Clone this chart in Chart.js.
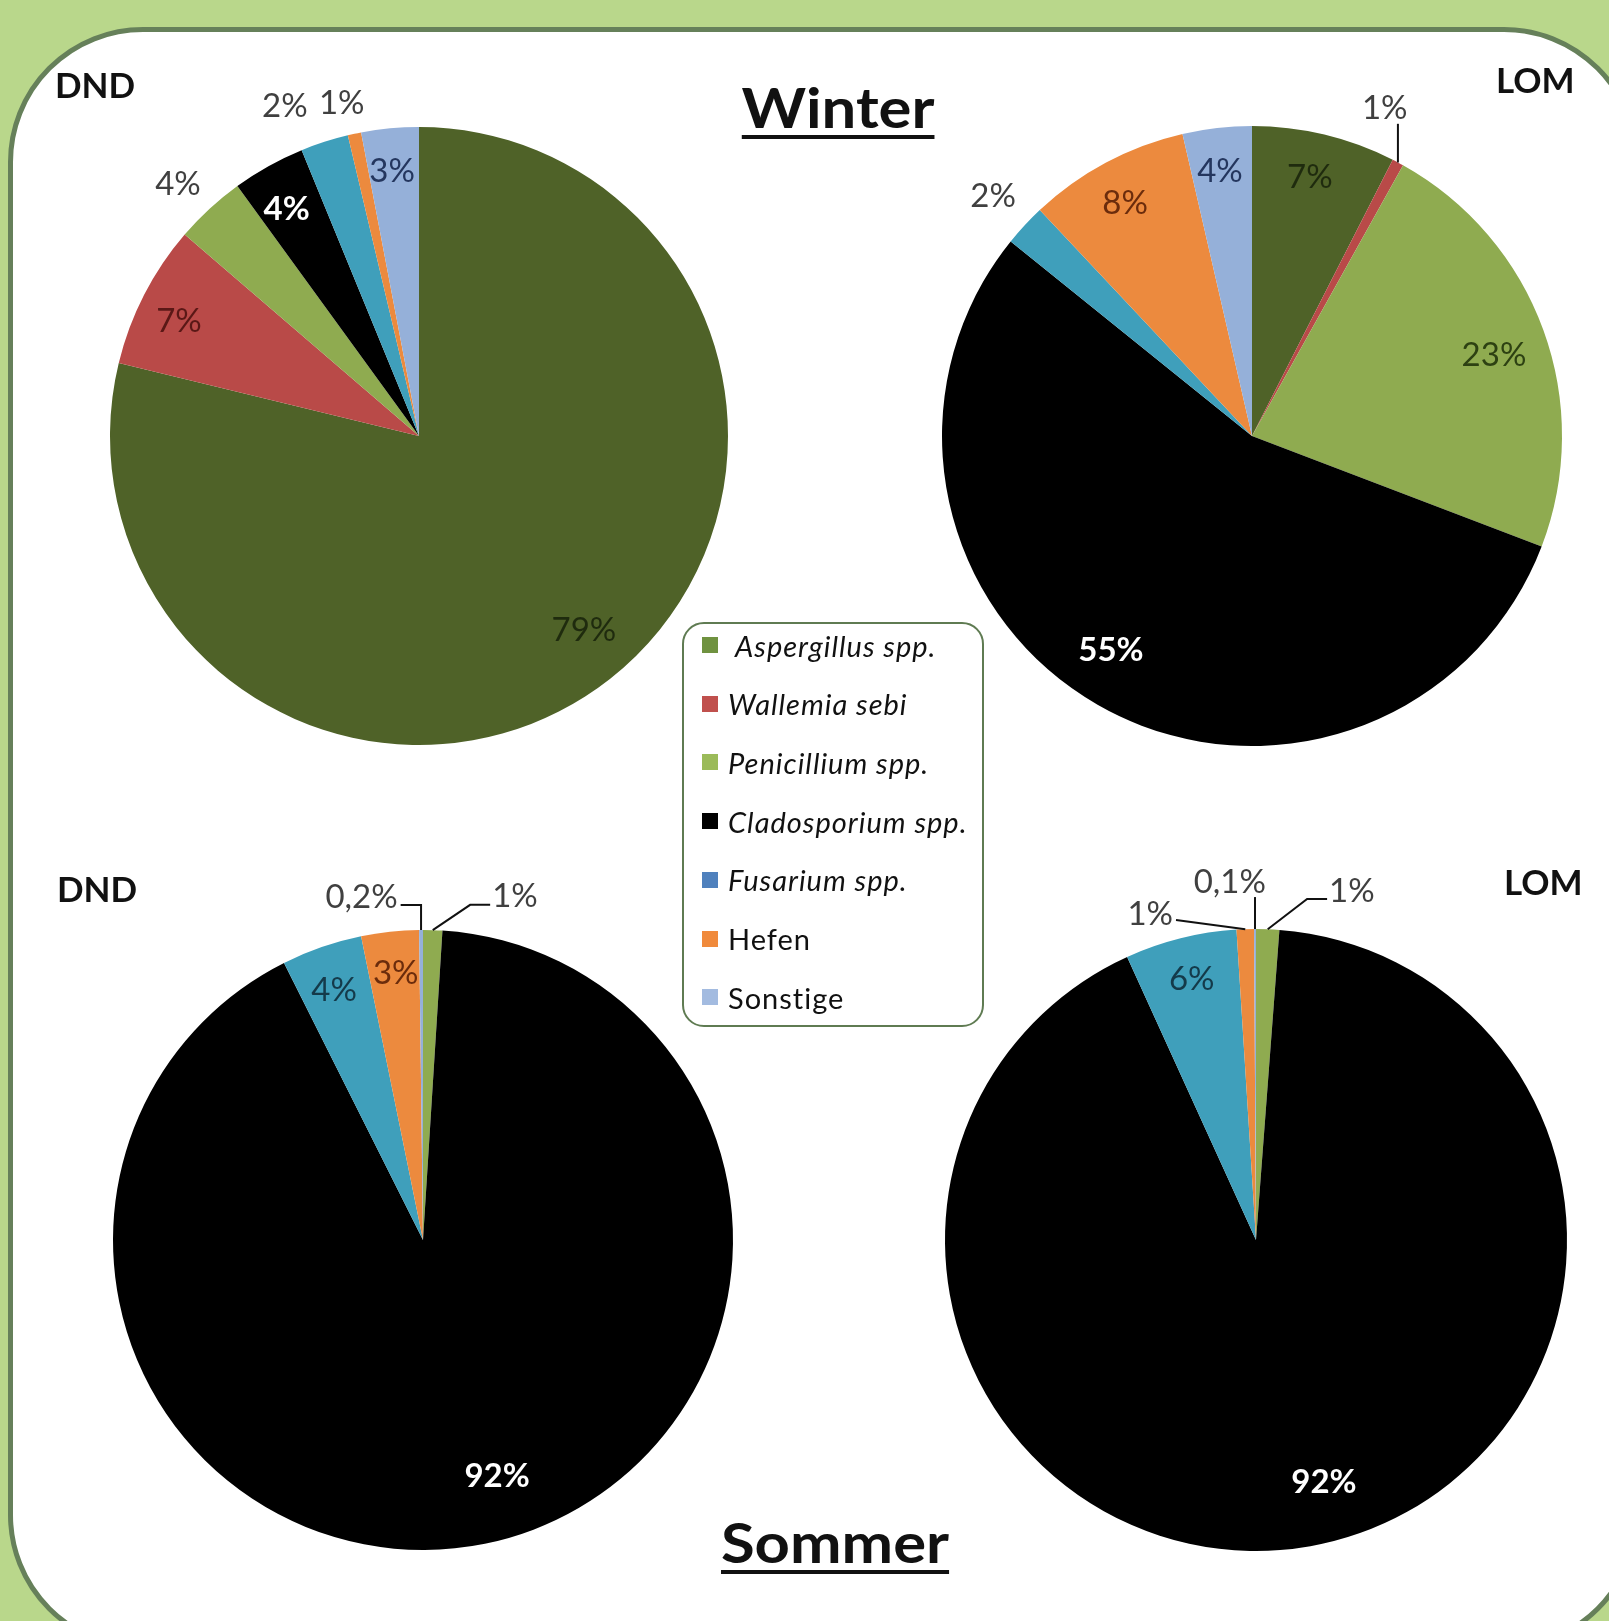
<!DOCTYPE html>
<html>
<head>
<meta charset="utf-8">
<script src="https://cdn.jsdelivr.net/npm/chart.js@4.4.1/dist/chart.umd.min.js"></script>
<style>
  html, body { margin: 0; padding: 0; }
  body { width: 1609px; height: 1621px; background: #b9d78b; position: relative; overflow: hidden; font-family: Lato, "Open Sans", sans-serif; }
  #panel { position: absolute; left: 8px; top: 27px; width: 1631px; height: 1623px; box-sizing: border-box; border: 5px solid #66805a; border-radius: 135px; background: #fff; }
  canvas { position: absolute; }
  .tag { position: absolute; font-weight: 700; font-size: 35px; line-height: 35px; color: #111; z-index: 4; }
  .title { position: absolute; font-weight: 700; font-size: 56px; line-height: 56px; color: #111; white-space: nowrap;
           text-decoration: underline; text-decoration-thickness: 4px; text-underline-offset: 7px;
           transform: translateX(-50%) scaleX(1.1); z-index: 4; }
  #legend { position: absolute; left: 682px; top: 622px; width: 302px; height: 405px; box-sizing: border-box;
            border: 2.5px solid #5f7b52; border-radius: 22px; background: #fff; z-index: 5; }
  .item { position: absolute; left: 18px; height: 30px; display: flex; align-items: center; font-size: 29px; letter-spacing: 1px; color: #111; white-space: nowrap; }
  .sw { width: 16px; height: 16px; margin-right: 10px; flex: none; }
</style>
</head>
<body>
<div id="panel"></div>

<canvas id="winterDND"></canvas>
<canvas id="winterLOM"></canvas>
<canvas id="sommerDND"></canvas>
<canvas id="sommerLOM"></canvas>

<div class="title" style="left:838px; top:79px;">Winter</div>
<div class="title" style="left:835px; top:1514px;">Sommer</div>
<div class="tag" style="left:55px; top:67px;">DND</div>
<div class="tag" style="left:1496px; top:62px;">LOM</div>
<div class="tag" style="left:57px; top:871px;">DND</div>
<div class="tag" style="left:1504px; top:864px;">LOM</div>

<div id="legend"></div>

<script>
// categories
const species = ["Aspergillus spp.", "Wallemia sebi", "Penicillium spp.", "Cladosporium spp.", "Fusarium spp.", "Hefen", "Sonstige"];
const italicName = [true, true, true, true, true, false, false];

// shares in %
const winterDND = [78.8, 7.5, 3.7, 3.8, 2.5, 0.7, 3.0];
const winterLOM = [7.5, 0.6, 22.7, 55.0, 2.2, 8.4, 3.6];
const sommerDND = [0, 0, 1.0, 91.6, 4.2, 3.0, 0.2];
const sommerLOM = [0, 0, 1.2, 92.0, 5.8, 0.9, 0.1];

// label texts as printed
const winterDNDText = ["79%", "7%", "4%", "4%", "2%", "1%", "3%"];
const winterLOMText = ["7%", "1%", "23%", "55%", "2%", "8%", "4%"];
const sommerDNDText = ["", "", "1%", "92%", "4%", "3%", "0,2%"];
const sommerLOMText = ["", "", "1%", "92%", "6%", "1%", "0,1%"];

const sliceColors = ["#4f6228", "#b94a48", "#8fab50", "#000000", "#3f9fbb", "#ec8a3e", "#95b0d9"];
const legendColors = ["#6f9240", "#c0504d", "#9bbb59", "#000000", "#4f81bd", "#f08a3c", "#a3bbe0"];

const out = "#404040";
const ink = { asp: "#1f2b0e", wal: "#5a1816", pen: "#2d4112", fus: "#143a4a", hef: "#6b2c0c", son: "#24365e" };

const sliceLabels = {
    id: "sliceLabels",
    afterDatasetsDraw(chart, args, opts) {
        const ctx = chart.ctx;
        const arcs = chart.getDatasetMeta(0).data;
        arcs.forEach((arc, i) => {
            const text = opts.texts[i];
            const p = opts.place[i];
            if (!text || !p) return;
            const a = arc.getProps(["x", "y", "startAngle", "endAngle", "outerRadius"], true);
            const m = (a.startAngle + a.endAngle) / 2;
            const ang = m + (p.da || 0) * Math.PI / 180;
            const lx = a.x + Math.cos(ang) * a.outerRadius * p.r;
            const ly = a.y + Math.sin(ang) * a.outerRadius * p.r;
            ctx.save();
            ctx.font = (p.bold ? "700 " : "400 ") + "33px Lato";
            ctx.fillStyle = p.color;
            ctx.textAlign = "center";
            ctx.textBaseline = "middle";
            ctx.fillText(text, lx, ly);
            if (p.leader) {
                const ex = a.x + Math.cos(m) * a.outerRadius;
                const ey = a.y + Math.sin(m) * a.outerRadius;
                const w = ctx.measureText(text).width;
                ctx.strokeStyle = "#111";
                ctx.lineWidth = 2;
                ctx.beginPath();
                if (p.leader === "down") {
                    ctx.moveTo(ex, ly + 15); ctx.lineTo(ex, ey);
                } else if (p.leader === "right") {
                    ctx.moveTo(lx + w / 2 + 3, ly + 8); ctx.lineTo(ex, ly + 8); ctx.lineTo(ex, ey);
                } else if (p.leader === "left") {
                    ctx.moveTo(lx - w / 2 - 2, ly + 8); ctx.lineTo(lx - w / 2 - 22, ly + 8); ctx.lineTo(ex, ey);
                } else {
                    ctx.moveTo(lx + w / 2 + 3, ly + 6); ctx.lineTo(ex, ey);
                }
                ctx.stroke();
            }
            ctx.restore();
        });
    }
};

function makePie(id, cx, cy, R, values, texts, place) {
    const size = 800;
    const cv = document.getElementById(id);
    cv.width = size;
    cv.height = size;
    cv.style.left = (cx - size / 2) + "px";
    cv.style.top = (cy - size / 2) + "px";
    return new Chart(cv, {
        type: "pie",
        data: {
            labels: species,
            datasets: [{ data: values, backgroundColor: sliceColors, borderWidth: 0 }]
        },
        options: {
            responsive: false,
            animation: false,
            events: [],
            layout: { padding: size / 2 - R },
            plugins: {
                legend: { display: false },
                tooltip: { enabled: false },
                sliceLabels: { texts: texts, place: place }
            }
        },
        plugins: [sliceLabels]
    });
}

makePie("winterDND", 419, 436, 309, winterDND, winterDNDText, [
    { r: 0.824, da: -2.2, color: ink.asp },
    { r: 0.861, da: -1.6, color: ink.wal },
    { r: 1.128, da: -1.1, color: out },
    { r: 0.85, da: -1.1, color: "#fff", bold: true },
    { r: 1.153, da: -4.3, color: out },
    { r: 1.106, da: -1.0, color: out },
    { r: 0.862, da: -0.4, color: ink.son }
]);

makePie("winterLOM", 1252, 436, 310, winterLOM, winterLOMText, [
    { r: 0.856, da: -0.9, color: ink.asp },
    { r: 1.139, da: -6.0, color: out, leader: "down" },
    { r: 0.823, da: 1.5, color: ink.pen },
    { r: 0.827, da: 3.5, color: "#fff", bold: true },
    { r: 1.137, da: -0.1, color: out },
    { r: 0.856, da: -0.5, color: ink.hef },
    { r: 0.861, da: -0.4, color: ink.son }
]);

makePie("sommerDND", 423, 1240, 310, sommerDND, sommerDNDText, [
    null, null,
    { r: 1.146, da: 13.2, color: out, leader: "left" },
    { r: 0.798, da: -5.9, color: "#fff", bold: true },
    { r: 0.856, da: -0.5, color: ink.fus },
    { r: 0.866, da: 0.3, color: ink.hef },
    { r: 1.124, da: -9.8, color: out, leader: "right" }
]);

makePie("sommerLOM", 1256, 1240, 311, sommerLOM, sommerLOMText, [
    null, null,
    { r: 1.164, da: 13.2, color: out, leader: "left" },
    { r: 0.808, da: -5.6, color: "#fff", bold: true },
    { r: 0.864, da: 0.2, color: ink.fus },
    { r: 1.102, da: -16, color: out, leader: "straight" },
    { r: 1.154, da: -4.0, color: out, leader: "down" }
]);

// legend box
const legend = document.getElementById("legend");
species.forEach((name, i) => {
    const row = document.createElement("div");
    row.className = "item";
    row.style.top = (21 + i * 58.7 - 15) + "px";
    const sw = document.createElement("span");
    sw.className = "sw";
    sw.style.background = legendColors[i];
    if (i === 0) sw.style.marginRight = "17px";
    const label = document.createElement("span");
    label.textContent = name;
    if (italicName[i]) label.style.fontStyle = "italic";
    row.appendChild(sw);
    row.appendChild(label);
    legend.appendChild(row);
});
</script>
</body>
</html>
